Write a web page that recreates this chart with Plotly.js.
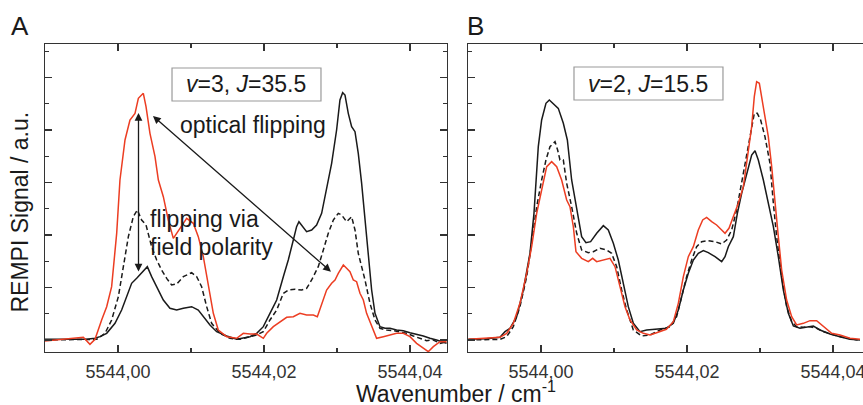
<!DOCTYPE html>
<html>
<head>
<meta charset="utf-8">
<script src="https://cdn.plot.ly/plotly-3.0.1.min.js"></script>
<style>html,body{margin:0;padding:0;background:#fff;}#chart{width:863px;height:405px;}</style>
</head>
<body>
<div id="chart"></div>
<script>
// ---------- Panel A: v=3, J=35.5 ----------
const aRedX = [5543.99000,5543.99205,5543.99388,5543.99525,5543.99616,5543.99685,5543.99776,5543.99845,5543.99913,5543.99982,5544.00027,5544.00096,5544.00164,5544.00233,5544.00279,5544.00347,5544.00384,5544.00438,5544.00507,5544.00553,5544.00621,5544.00689,5544.00758,5544.00804,5544.00872,5544.00941,5544.01032,5544.01100,5544.01169,5544.01237,5544.01306,5544.01374,5544.01489,
  5544.01626,5544.01717,5544.01808,5544.01900,5544.01991,5544.02037,5544.02128,5544.02219,5544.02311,5544.02402,5544.02493,5544.02584,5544.02676,5544.02731,5544.02790,5544.02858,5544.02927,5544.02973,5544.03018,5544.03087,5544.03132,5544.03178,5544.03224,5544.03269,5544.03315,5544.03361,5544.03406,5544.03475,5544.03543,5544.03635,5544.03726,5544.03817,5544.03909,5544.04000,5544.04091,5544.04183,5544.04251,5544.04320,5544.04411,5544.04502];
const aRedY = [-3,2,5,8,-13,2,60,100,160,320,480,600,660,680,725,740,700,620,550,480,430,360,305,320,340,365,350,310,250,160,80,30,10,
  5,20,18,18,5,20,40,55,68,70,80,75,75,70,110,150,170,180,200,225,215,205,180,175,140,120,80,40,5,10,15,20,20,10,-10,-25,-35,-20,-5,-5];

const aBlackX = [5543.99000,5543.99205,5543.99388,5543.99571,5543.99685,5543.99753,5543.99845,5543.99959,5544.00050,5544.00119,5544.00187,5544.00256,5544.00347,5544.00402,5544.00461,5544.00530,5544.00621,5544.00712,5544.00804,5544.00895,5544.01009,5544.01100,5544.01169,5544.01260,5544.01352,5544.01489,
  5544.01626,5544.01717,5544.01808,5544.01900,5544.01991,5544.02082,5544.02174,5544.02265,5544.02333,5544.02402,5544.02447,5544.02479,5544.02516,5544.02584,5544.02653,5544.02721,5544.02790,5544.02858,5544.02927,5544.02995,5544.03041,5544.03078,5544.03110,5544.03155,5544.03201,5544.03247,5544.03292,5544.03338,5544.03384,5544.03429,5544.03475,5544.03521,5544.03589,5544.03658,5544.03726,5544.03817,5544.03909,5544.04000,5544.04091,5544.04183,5544.04274,5544.04365,5544.04502];
const aBlackY = [2,2,2,2,5,10,20,50,90,130,170,185,205,220,190,160,120,95,90,95,100,90,70,45,25,12,
  2,5,10,20,40,80,120,190,240,300,340,355,345,325,330,345,380,450,530,630,720,742,735,680,640,625,560,470,360,250,150,80,40,35,35,30,28,22,18,12,5,0,-10];

const aDashX = [5543.99000,5543.99388,5543.99708,5543.99822,5543.99913,5544.00005,5544.00073,5544.00142,5544.00210,5544.00265,5544.00324,5544.00384,5544.00461,5544.00530,5544.00598,5544.00667,5544.00735,5544.00804,5544.00895,5544.01009,5544.01078,5544.01146,5544.01215,5544.01283,5544.01397,5544.01534,
  5544.01671,5544.01808,5544.01900,5544.01991,5544.02082,5544.02174,5544.02265,5544.02333,5544.02425,5544.02516,5544.02584,5544.02653,5544.02699,5544.02744,5544.02813,5544.02881,5544.02950,5544.03018,5544.03064,5544.03132,5544.03201,5544.03247,5544.03292,5544.03338,5544.03384,5544.03452,5544.03521,5544.03589,5544.03680,5544.03772,5544.03863,5544.03954,5544.04046,5544.04137,5544.04228,5544.04320,5544.04411,5544.04502];
const aDashY = [0,0,2,20,60,130,220,310,370,390,360,345,280,240,210,185,165,168,190,202,190,160,100,50,20,5,
  2,10,15,25,60,90,140,150,152,150,155,180,200,220,270,320,360,380,375,355,370,330,260,220,180,110,60,35,30,28,25,20,12,5,-2,0,-10,-5];

// ---------- Panel B: v=2, J=15.5 ----------
const bBlackX = [5543.99005,5543.99256,5543.99438,5543.99507,5543.99575,5543.99667,5543.99758,5543.99849,5543.99904,5543.99963,5544.00009,5544.00068,5544.00114,5544.00169,5544.00237,5544.00306,5544.00361,5544.00420,5544.00489,5544.00557,5544.00616,5544.00680,5544.00763,5544.00854,5544.00922,5544.00991,5544.01059,5544.01128,5544.01196,5544.01265,5544.01356,5544.01447,
  5544.01584,5544.01717,5544.01813,5544.01881,5544.01950,5544.02018,5544.02087,5544.02155,5544.02224,5544.02292,5544.02384,5544.02475,5544.02521,5544.02566,5544.02635,5544.02690,5544.02749,5544.02817,5544.02886,5544.02932,5544.02977,5544.03046,5544.03114,5544.03183,5544.03251,5544.03320,5544.03388,5544.03457,5544.03548,5544.03639,5544.03731,5544.03822,5544.03959,5544.04096,5544.04233,5544.04370];
const bBlackY = [2,4,8,25,35,70,150,260,380,580,660,710,720,710,695,650,600,480,390,310,292,295,320,343,330,290,240,170,100,50,25,30,
  32,35,50,90,150,200,240,260,268,262,250,235,250,280,310,380,440,500,555,568,540,480,410,340,250,150,80,42,35,38,42,30,18,10,2,0];

const bRedX = [5543.99005,5543.99256,5543.99438,5543.99530,5543.99621,5543.99712,5543.99804,5543.99872,5543.99941,5544.00009,5544.00078,5544.00146,5544.00215,5544.00283,5544.00352,5544.00397,5544.00443,5544.00479,5544.00557,5544.00648,5544.00708,5544.00763,5544.00854,5544.00945,5544.01014,5544.01082,5544.01151,5544.01219,5544.01311,5544.01402,5544.01493,
  5544.01584,5544.01717,5544.01813,5544.01881,5544.01950,5544.02018,5544.02087,5544.02155,5544.02215,5544.02269,5544.02338,5544.02406,5544.02475,5544.02521,5544.02575,5544.02635,5544.02703,5544.02772,5544.02840,5544.02886,5544.02922,5544.02954,5544.02991,5544.03023,5544.03068,5544.03114,5544.03160,5544.03205,5544.03251,5544.03297,5544.03365,5544.03434,5544.03502,5544.03594,5544.03685,5544.03776,5544.03868,5544.03982,5544.04096,5544.04233,5544.04370];
const bRedY = [2,5,8,20,50,110,200,280,380,450,520,535,520,480,420,400,340,265,245,235,245,235,240,245,220,160,100,60,30,20,15,
  22,32,55,110,190,250,280,330,360,368,355,345,330,320,335,370,410,460,560,640,730,775,770,730,670,610,520,410,310,210,120,70,45,50,58,58,40,20,15,5,2];

const bDashX = [5543.99005,5543.99438,5543.99530,5543.99621,5543.99712,5543.99804,5543.99872,5543.99941,5544.00009,5544.00068,5544.00123,5544.00192,5544.00228,5544.00260,5544.00306,5544.00352,5544.00420,5544.00489,5544.00557,5544.00648,5544.00717,5544.00808,5544.00900,5544.00968,5544.01037,5544.01105,5544.01174,5544.01265,5544.01379,5544.01493,
  5544.01630,5544.01767,5544.01858,5544.01927,5544.01995,5544.02064,5544.02132,5544.02201,5544.02292,5544.02384,5544.02475,5544.02543,5544.02612,5544.02680,5544.02749,5544.02817,5544.02877,5544.02922,5544.02963,5544.03009,5544.03068,5544.03137,5544.03183,5544.03228,5544.03297,5544.03365,5544.03434,5544.03502,5544.03594,5544.03685,5544.03776,5544.03868,5544.04018,5544.04155,5544.04338];
const bDashY = [0,2,10,40,100,190,290,400,480,540,580,595,570,540,540,470,400,320,270,262,265,275,270,260,220,150,90,30,12,15,
  30,40,70,130,190,240,280,295,298,295,288,300,330,390,470,550,630,680,680,660,610,530,410,310,190,100,55,40,38,40,35,25,15,7,0];

// ---------- Text ----------
const panelLabels = ['A', 'B'];
const stateLabels = ['<i>v</i>=3, <i>J</i>=35.5', '<i>v</i>=2, <i>J</i>=15.5'];
const noteOptical = 'optical flipping';
const noteField = ['flipping via', 'field polarity'];
const xTitle = 'Wavenumber / cm<sup>-1</sup>';
const yTitle = 'REMPI Signal / a.u.';

const RED = '#ec3d22';
const BLK = '#1a1a1a';
const FONT = 'Liberation Sans, Arial, Helvetica, sans-serif';
const LW = 1.5;

function tr(x, y, color, dash, xa, ya) {
  return {x: x, y: y, type: 'scatter', mode: 'lines', xaxis: xa, yaxis: ya,
    line: {color: color, width: LW, dash: dash}, hoverinfo: 'skip'};
}

const data = [
  tr(aBlackX, aBlackY, BLK, 'solid', 'x', 'y'),
  tr(aDashX, aDashY, BLK, '5px,3px', 'x', 'y'),
  tr(aRedX, aRedY, RED, 'solid', 'x', 'y'),
  tr(bBlackX, bBlackY, BLK, 'solid', 'x2', 'y2'),
  tr(bDashX, bDashY, BLK, '5px,3px', 'x2', 'y2'),
  tr(bRedX, bRedY, RED, 'solid', 'x2', 'y2')
];

function xAxis(domain, range, anchor) {
  return {domain: domain, range: range, anchor: anchor,
    showline: true, linecolor: '#333', linewidth: 1.2, mirror: 'ticks',
    ticks: 'inside', ticklen: 7, tickwidth: 1.2, tickcolor: '#333',
    tick0: 5544, dtick: 0.02, tickformat: '.2f',
    ticklabeloverflow: 'allow', ticklabelstandoff: 3,
    minor: {dtick: 0.01, ticks: 'inside', ticklen: 4, tickwidth: 1.2, tickcolor: '#333', showgrid: false},
    showgrid: false, zeroline: false,
    tickfont: {family: FONT, size: 18, color: '#333'}};
}
function yAxis(anchor, mirror) {
  return {domain: [0, 1], range: [-36, 888], anchor: anchor,
    showline: true, linecolor: '#333', linewidth: 1.2, mirror: mirror,
    ticks: 'inside', ticklen: 7, tickwidth: 1.2, tickcolor: '#333',
    tick0: 0, dtick: 157.5, showticklabels: false,
    minor: {dtick: 78.75, ticks: 'inside', ticklen: 4, tickwidth: 1.2, tickcolor: '#333', showgrid: false},
    showgrid: false, zeroline: false};
}

const txt = (s, size) => ({family: FONT, size: size || 23, color: BLK});

const layout = {
  width: 863, height: 405,
  margin: {l: 45, r: 0, t: 44, b: 53, pad: 0},
  paper_bgcolor: '#fff', plot_bgcolor: '#fff',
  separators: ',.',
  showlegend: false,
  xaxis: xAxis([0, 0.4914], [5543.99, 5544.04507], 'y'),
  yaxis: yAxis('x', 'ticks'),
  xaxis2: xAxis([0.5171, 1], [5543.99, 5544.04411], 'y2'),
  yaxis2: yAxis('x2', false),
  shapes: [
    {type: 'rect', xref: 'x', yref: 'y', x0: 5544.0074, x1: 5544.02781, y0: 717, y1: 816,
      line: {color: '#9a9a9a', width: 1.2}, fillcolor: 'rgba(0,0,0,0)'},
    {type: 'rect', xref: 'x2', yref: 'y2', x0: 5544.00452, x1: 5544.02493, y0: 720, y1: 819,
      line: {color: '#9a9a9a', width: 1.2}, fillcolor: 'rgba(0,0,0,0)'}
  ],
  annotations: [
    {xref: 'paper', yref: 'paper', x: -0.044, y: 1.058, xanchor: 'left', yanchor: 'middle',
      text: panelLabels[0], showarrow: false, font: txt(0, 26)},
    {xref: 'paper', yref: 'paper', x: 0.513, y: 1.058, xanchor: 'left', yanchor: 'middle',
      text: panelLabels[1], showarrow: false, font: txt(0, 26)},
    {xref: 'x', yref: 'y', x: 5544.01753, y: 768, xanchor: 'center', yanchor: 'middle',
      text: stateLabels[0], showarrow: false, font: txt(0, 23)},
    {xref: 'x2', yref: 'y2', x: 5544.01466, y: 768, xanchor: 'center', yanchor: 'middle',
      text: stateLabels[1], showarrow: false, font: txt(0, 23)},
    {xref: 'x', yref: 'y', x: 5544.00822, y: 645, xanchor: 'left', yanchor: 'middle',
      text: noteOptical, showarrow: false, font: txt(0, 23)},
    {xref: 'x', yref: 'y', x: 5544.00411, y: 363, xanchor: 'left', yanchor: 'middle',
      text: noteField[0], showarrow: false, font: txt(0, 23)},
    {xref: 'x', yref: 'y', x: 5544.00411, y: 279, xanchor: 'left', yanchor: 'middle',
      text: noteField[1], showarrow: false, font: txt(0, 23)},
    // vertical double arrow
    {xref: 'x', yref: 'y', axref: 'x', ayref: 'y', x: 5544.00281, y: 681, ax: 5544.00281, ay: 201,
      text: '', showarrow: true, arrowside: 'end+start', arrowhead: 2, arrowsize: 1.2, arrowwidth: 1.3,
      arrowcolor: BLK, standoff: 0, startstandoff: 0},
    // diagonal double arrow
    {xref: 'x', yref: 'y', axref: 'x', ayref: 'y', x: 5544.00479, y: 672, ax: 5544.02938, ay: 201,
      text: '', showarrow: true, arrowside: 'end+start', arrowhead: 2, arrowsize: 1.2, arrowwidth: 1.3,
      arrowcolor: BLK, standoff: 0, startstandoff: 0},
    // axis titles
    {xref: 'paper', yref: 'paper', x: 0.5024, y: -0.13, xanchor: 'center', yanchor: 'middle',
      text: xTitle, showarrow: false, font: txt(0, 23)},
    {xref: 'paper', yref: 'paper', x: -0.0306, y: 0.456, xanchor: 'center', yanchor: 'middle',
      text: yTitle, textangle: -90, showarrow: false, font: txt(0, 23)}
  ]
};

Plotly.newPlot('chart', data, layout, {staticPlot: true, displayModeBar: false});
</script>
</body>
</html>
